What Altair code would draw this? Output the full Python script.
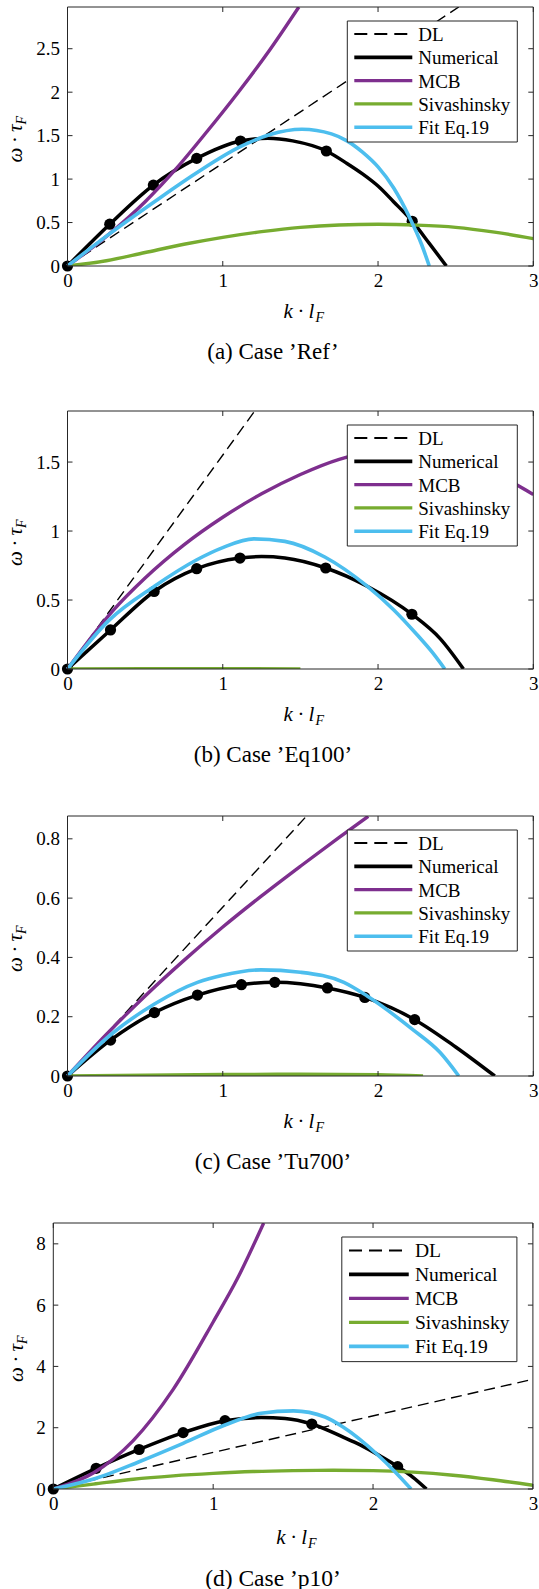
import altair as alt
import pandas as pd

FONT = "'Liberation Serif', 'Times New Roman', serif"
BOX = "#262626"
SERIES = ["DL", "Numerical", "MCB", "Sivashinsky", "Fit Eq.19"]
X_TICKS = [0, 1, 2, 3]
X_MAX = 3

# ---------------- (a) Case 'Ref' ----------------
A_CAPTION = "(a) Case \u2019Ref\u2019"
A_Y_TICKS = [0, 0.5, 1, 1.5, 2, 2.5]
A_Y_MAX = 2.98
A_DL_K = [0, 2.52]
A_DL_W = [0, 2.98]
A_NUM_K = [0, 0.272, 0.553, 0.832, 1.114, 1.29, 1.45, 1.667, 1.8, 1.9, 2.0, 2.1, 2.22, 2.33, 2.44]
A_NUM_W = [0, 0.481, 0.931, 1.238, 1.438, 1.47, 1.44, 1.323, 1.18, 1.06, 0.92, 0.74, 0.515, 0.26, 0]
A_PTS_K = [0, 0.272, 0.553, 0.832, 1.114, 1.667, 2.220]
A_PTS_W = [0, 0.481, 0.931, 1.238, 1.438, 1.323, 0.515]
A_MCB_K = [0, 0.27, 0.5, 0.7, 0.9, 1.1, 1.3, 1.49]
A_MCB_W = [0, 0.37, 0.74, 1.12, 1.55, 2.0, 2.48, 2.98]
A_SIV_K = [0, 0.25, 0.5, 0.75, 1, 1.25, 1.5, 1.75, 2, 2.25, 2.5, 2.75, 3]
A_SIV_W = [0, 0.06, 0.155, 0.25, 0.33, 0.395, 0.445, 0.472, 0.48, 0.47, 0.445, 0.39, 0.315]
A_FIT_K = [0, 0.27, 0.56, 0.83, 1.11, 1.3, 1.51, 1.7, 1.8, 1.9, 2.0, 2.1, 2.2, 2.28, 2.33]
A_FIT_W = [0, 0.37, 0.74, 1.07, 1.37, 1.51, 1.573, 1.52, 1.44, 1.31, 1.14, 0.90, 0.57, 0.25, 0]

# ---------------- (b) Case 'Eq100' ----------------
B_CAPTION = "(b) Case \u2019Eq100\u2019"
B_Y_TICKS = [0, 0.5, 1, 1.5]
B_Y_MAX = 1.87
B_DL_K = [0, 1.206]
B_DL_W = [0, 1.87]
B_NUM_K = [0, 0.277, 0.558, 0.832, 1.111, 1.25, 1.4, 1.663, 1.93, 2.218, 2.4, 2.55]
B_NUM_W = [0, 0.283, 0.562, 0.727, 0.804, 0.815, 0.805, 0.732, 0.60, 0.397, 0.22, 0]
B_PTS_K = [0, 0.277, 0.558, 0.832, 1.111, 1.663, 2.218]
B_PTS_W = [0, 0.283, 0.562, 0.727, 0.804, 0.732, 0.397]
B_MCB_K = [0, 0.29, 0.5, 0.75, 1.0, 1.25, 1.5, 1.75, 2.0, 2.25, 2.5, 2.75, 3]
B_MCB_W = [0, 0.42, 0.66, 0.90, 1.10, 1.27, 1.41, 1.52, 1.58, 1.59, 1.53, 1.42, 1.265]
B_SIV_K = [0, 0.5, 1.0, 1.5]
B_SIV_W = [0, 0.002, 0.002, 0.001]
B_FIT_K = [0, 0.27, 0.56, 0.83, 1.0, 1.2, 1.4, 1.66, 1.93, 2.1, 2.25, 2.35, 2.43]
B_FIT_W = [0, 0.356, 0.60, 0.79, 0.88, 0.943, 0.925, 0.81, 0.60, 0.43, 0.25, 0.12, 0]

# ---------------- (c) Case 'Tu700' ----------------
C_CAPTION = "(c) Case \u2019Tu700\u2019"
C_Y_TICKS = [0, 0.2, 0.4, 0.6, 0.8]
C_Y_MAX = 0.877
C_DL_K = [0, 1.54]
C_DL_W = [0, 0.877]
C_NUM_K = [0, 0.277, 0.56, 0.837, 1.12, 1.335, 1.5, 1.674, 1.915, 2.236, 2.5, 2.752]
C_NUM_W = [0, 0.121, 0.214, 0.273, 0.308, 0.316, 0.311, 0.297, 0.265, 0.19, 0.098, 0]
C_PTS_K = [0, 0.277, 0.560, 0.837, 1.120, 1.335, 1.674, 1.915, 2.236]
C_PTS_W = [0, 0.121, 0.214, 0.273, 0.308, 0.316, 0.297, 0.265, 0.190]
C_MCB_K = [0, 0.25, 0.5, 0.75, 1, 1.25, 1.5, 1.75, 1.937]
C_MCB_W = [0, 0.14, 0.27, 0.39, 0.5025, 0.6075, 0.7075, 0.805, 0.876]
C_SIV_K = [0, 0.5, 1, 1.5, 2, 2.29]
C_SIV_W = [0, 0.003, 0.005, 0.006, 0.004, 0.0]
C_FIT_K = [0, 0.28, 0.56, 0.837, 1.0, 1.246, 1.5, 1.78, 1.93, 2.22, 2.4, 2.52]
C_FIT_W = [0, 0.14, 0.243, 0.316, 0.34, 0.358, 0.35, 0.316, 0.27, 0.158, 0.079, 0]

# ---------------- (d) Case 'p10' ----------------
D_CAPTION = "(d) Case \u2019p10\u2019"
D_Y_TICKS = [0, 2, 4, 6, 8]
D_Y_MAX = 8.68
D_DL_K = [0, 3]
D_DL_W = [0, 3.58]
D_NUM_K = [0, 0.268, 0.537, 0.812, 1.074, 1.3, 1.45, 1.617, 1.81, 1.92, 2.05, 2.154, 2.25, 2.334]
D_NUM_W = [0, 0.675, 1.29, 1.84, 2.23, 2.33, 2.3, 2.12, 1.7, 1.44, 1.06, 0.73, 0.38, 0]
D_PTS_K = [0, 0.268, 0.537, 0.812, 1.074, 1.617, 2.154]
D_PTS_W = [0, 0.675, 1.29, 1.84, 2.23, 2.12, 0.73]
D_MCB_K = [0, 0.25, 0.5, 0.75, 1.0, 1.15, 1.316]
D_MCB_W = [0, 0.52, 1.58, 3.25, 5.45, 6.85, 8.68]
D_SIV_K = [0, 0.25, 0.5, 0.75, 1, 1.25, 1.5, 1.75, 2, 2.25, 2.5, 2.75, 3]
D_SIV_W = [0, 0.16, 0.32, 0.43, 0.51, 0.57, 0.6, 0.61, 0.6, 0.55, 0.45, 0.3, 0.12]
D_FIT_K = [0, 0.268, 0.537, 0.812, 1.074, 1.3, 1.503, 1.7, 1.81, 2.03, 2.14, 2.238]
D_FIT_W = [0, 0.35, 0.89, 1.49, 2.09, 2.47, 2.55, 2.35, 2.03, 1.11, 0.55, 0]

PANELS = [
    dict(caption=A_CAPTION, yticks=A_Y_TICKS, ymax=A_Y_MAX, pts=(A_PTS_K, A_PTS_W),
         curves={"DL": (A_DL_K, A_DL_W), "Numerical": (A_NUM_K, A_NUM_W), "MCB": (A_MCB_K, A_MCB_W),
                 "Sivashinsky": (A_SIV_K, A_SIV_W), "Fit Eq.19": (A_FIT_K, A_FIT_W)}),
    dict(caption=B_CAPTION, yticks=B_Y_TICKS, ymax=B_Y_MAX, pts=(B_PTS_K, B_PTS_W),
         curves={"DL": (B_DL_K, B_DL_W), "Numerical": (B_NUM_K, B_NUM_W), "MCB": (B_MCB_K, B_MCB_W),
                 "Sivashinsky": (B_SIV_K, B_SIV_W), "Fit Eq.19": (B_FIT_K, B_FIT_W)}),
    dict(caption=C_CAPTION, yticks=C_Y_TICKS, ymax=C_Y_MAX, pts=(C_PTS_K, C_PTS_W),
         curves={"DL": (C_DL_K, C_DL_W), "Numerical": (C_NUM_K, C_NUM_W), "MCB": (C_MCB_K, C_MCB_W),
                 "Sivashinsky": (C_SIV_K, C_SIV_W), "Fit Eq.19": (C_FIT_K, C_FIT_W)}),
    dict(caption=D_CAPTION, yticks=D_Y_TICKS, ymax=D_Y_MAX, pts=(D_PTS_K, D_PTS_W),
         curves={"DL": (D_DL_K, D_DL_W), "Numerical": (D_NUM_K, D_NUM_W), "MCB": (D_MCB_K, D_MCB_W),
                 "Sivashinsky": (D_SIV_K, D_SIV_W), "Fit Eq.19": (D_FIT_K, D_FIT_W)}),
]

# ---------------- styles / layout ----------------
STYLE = {
    "DL": dict(color="#000000", strokeWidth=1.4, strokeDash=[11, 6]),
    "Numerical": dict(color="#000000", strokeWidth=3.5),
    "MCB": dict(color="#7E2F8E", strokeWidth=3.4),
    "Sivashinsky": dict(color="#77AC30", strokeWidth=3.4),
    "Fit Eq.19": dict(color="#4DBEEE", strokeWidth=3.6),
}
LEGEND_STYLE = {
    "DL": dict(color="#000000", strokeWidth=2, strokeDash=[13, 7]),
    "Numerical": dict(color="#000000", strokeWidth=3.8),
    "MCB": dict(color="#7E2F8E", strokeWidth=3.4),
    "Sivashinsky": dict(color="#77AC30", strokeWidth=3.4),
    "Fit Eq.19": dict(color="#4DBEEE", strokeWidth=3.6),
}
ORIGIN_X = 53.3          # common left edge of the panel groups in the page
ORIGIN_Y = 7
# x0: inset of the plot frame inside its group; W: group width; H: plot height;
# B: bottom bound of the panel (start of the next one); cap: caption offset below the plot
LAYOUT = [
    dict(x0=14.2, W=480, H=259, B=403, cap=86, cs=23, ytx=-31.8, ls=1.0, xt=52),
    dict(x0=14.2, W=480, H=258, B=404, cap=86, cs=23, ytx=-31.8, ls=1.0, xt=52),
    dict(x0=14.2, W=480, H=260, B=406, cap=86, cs=23, ytx=-31.8, ls=1.0, xt=52),
    dict(x0=0.0, W=479.6, H=266, B=366, cap=89.5, cs=23.5, ytx=-30.8, ls=1.03, xt=55),
]
ONE = pd.DataFrame({"o": [0]})


def txt(text, x, y, size, align="center", baseline="middle", style="normal", angle=0):
    kw = dict(text=text, font=FONT, fontSize=size, align=align, baseline=baseline,
              fontStyle=style, color="black")
    if angle:
        kw["angle"] = angle
    return alt.Chart(ONE).mark_text(**kw).encode(x=alt.value(x), y=alt.value(y))


def make_panel(p, lay):
    W, H, x0 = lay["W"], lay["H"], lay["x0"]
    xs = alt.Scale(domain=[0, X_MAX], range=[x0, W], nice=False, zero=False)
    ys = alt.Scale(domain=[0, p["ymax"]], nice=False, zero=False)
    xax = alt.Axis(values=X_TICKS, title=None, tickSize=0, domain=False, grid=False,
                   labelFont=FONT, labelFontSize=19, labelColor="black", labelPadding=5,
                   format="~g", labelFlush=False, labelOverlap=False)
    yax = alt.Axis(values=p["yticks"], title=None, tickSize=0, domain=False, grid=False,
                   labelFont=FONT, labelFontSize=19, labelColor="black", labelPadding=8,
                   format="~g", labelFlush=False, labelOverlap=False, offset=-x0)
    layers = []
    # invisible bound helper (fixes where the next panel starts)
    layers.append(alt.Chart(ONE).mark_rule(color="white", opacity=0, strokeWidth=0.1).encode(
        x=alt.value(x0 + 1), x2=alt.value(x0 + 1), y=alt.value(0), y2=alt.value(lay["B"])))

    def line(name):
        k, w = p["curves"][name]
        df = pd.DataFrame({"k": k, "w": w, "i": list(range(len(k)))})
        return alt.Chart(df).mark_line(clip=True, interpolate="monotone", **STYLE[name]).encode(
            x=alt.X("k:Q", scale=xs, axis=xax), y=alt.Y("w:Q", scale=ys, axis=yax),
            order=alt.Order("i:Q"))

    layers.append(line("DL"))
    layers.append(line("Numerical"))
    pk, pw = p["pts"]
    layers.append(alt.Chart(pd.DataFrame({"k": pk, "w": pw})).mark_circle(
        color="black", opacity=1, size=125).encode(
        x=alt.X("k:Q", scale=xs, axis=xax), y=alt.Y("w:Q", scale=ys, axis=yax)))
    layers.append(line("MCB"))
    layers.append(line("Sivashinsky"))
    layers.append(line("Fit Eq.19"))

    # plot frame
    layers.append(alt.Chart(ONE).mark_rect(fillOpacity=0, stroke=BOX, strokeWidth=1).encode(
        x=alt.value(x0), x2=alt.value(W), y=alt.value(0), y2=alt.value(H)))
    # inward ticks on all four sides
    xt = pd.DataFrame({"t": X_TICKS})
    yt = pd.DataFrame({"t": p["yticks"]})
    for y1, y2 in [(H, H - 5), (0, 5)]:
        layers.append(alt.Chart(xt).mark_rule(color=BOX, strokeWidth=1).encode(
            x=alt.X("t:Q", scale=xs, axis=xax), y=alt.value(y1), y2=alt.value(y2)))
    for xa, xb in [(x0, x0 + 5), (W - 5, W)]:
        layers.append(alt.Chart(yt).mark_rule(color=BOX, strokeWidth=1).encode(
            y=alt.Y("t:Q", scale=ys, axis=yax), x=alt.value(xa), x2=alt.value(xb)))

    # legend box
    s = lay["ls"]
    bw, bh = 170 * s, 121 * s
    bx, by = W - 16 - bw, 14
    layers.append(alt.Chart(ONE).mark_rect(fill="white", stroke=BOX, strokeWidth=1).encode(
        x=alt.value(bx), x2=alt.value(bx + bw), y=alt.value(by), y2=alt.value(by + bh)))
    for i, name in enumerate(SERIES):
        ry = by + 13 * s + i * 23.3 * s
        layers.append(alt.Chart(ONE).mark_rule(**LEGEND_STYLE[name]).encode(
            x=alt.value(bx + 7 * s), x2=alt.value(bx + 65 * s), y=alt.value(ry)))
        layers.append(txt(name, bx + 71 * s, ry + 1, 19 * s, align="left"))

    # axis titles (with subscripts)
    cx = (x0 + W) / 2
    layers.append(txt("k \u00b7 l", cx + 14, H + lay["xt"], 21, align="right",
                      baseline="alphabetic", style="italic"))
    layers.append(txt("F", cx + 15, H + lay["xt"] + 4, 14, align="left",
                      baseline="alphabetic", style="italic"))
    cy = H / 2 + 3
    layers.append(txt("\u03c9 \u00b7 \u03c4", lay["ytx"], cy - 15, 21, align="right",
                      baseline="alphabetic", style="italic", angle=270))
    layers.append(txt("F", lay["ytx"] + 4, cy - 15, 14, align="left",
                      baseline="alphabetic", style="italic", angle=270))
    # caption
    layers.append(txt(p["caption"], 273 - ORIGIN_X, H + lay["cap"], lay["cs"]))

    return alt.layer(*layers).properties(width=W, height=H)


chart = alt.vconcat(*[make_panel(p, l) for p, l in zip(PANELS, LAYOUT)], spacing=0).resolve_scale(
    x="independent", y="independent").properties(
    autosize=alt.AutoSizeParams(type="none"),
    padding={"left": ORIGIN_X, "top": ORIGIN_Y, "right": 539 - ORIGIN_X, "bottom": 1589 - ORIGIN_Y}
).configure_view(strokeWidth=0)

chart.save("out.html", embed_options={"renderer": "svg", "actions": False})
